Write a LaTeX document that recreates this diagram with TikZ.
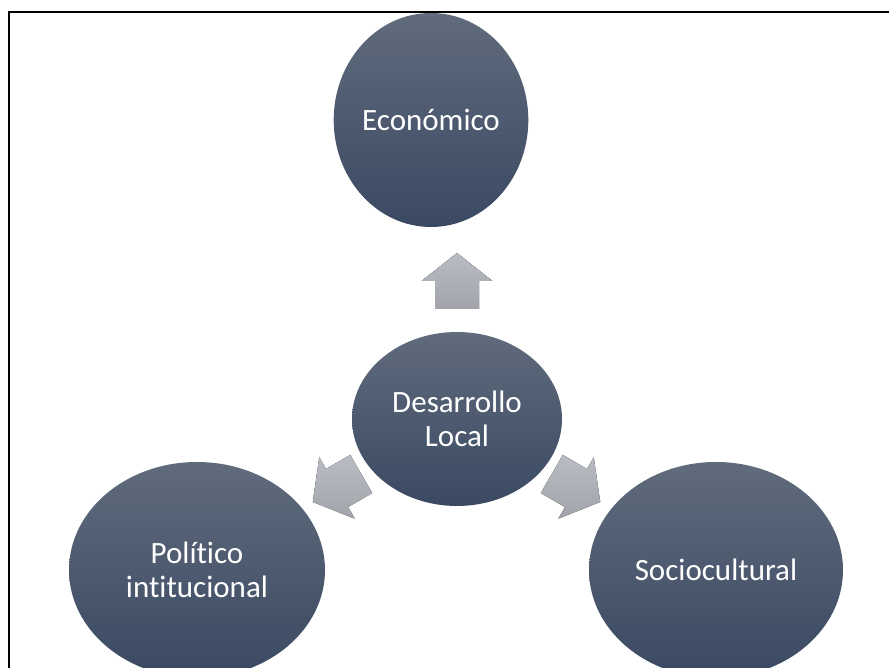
\documentclass[tikz,border=0pt]{standalone}
\usepackage{fontspec}
\setmainfont[Ligatures=NoCommon]{Carlito}
\usetikzlibrary{shapes.geometric}
\definecolor{bubbletop}{RGB}{96,107,124}
\definecolor{bubblebot}{RGB}{58,73,98}
\definecolor{arrtop}{RGB}{185,188,196}
\definecolor{arrbot}{RGB}{162,164,170}
\begin{document}
\begin{tikzpicture}[x=1pt,y=1pt,
	bubble/.style={ellipse, inner sep=0pt, top color=bubbletop, bottom color=bubblebot,
		text=white, align=center, font=\fontsize{31}{34}\selectfont},
	blockarr/.style={top color=arrtop, bottom color=arrbot}]
	\useasboundingbox (0,0) rectangle (889,668);
	\clip (0,0) rectangle (889,668);
	% frame
	\draw [line width=2pt] (9,-20) -- (9,655.5) -- (900,655.5);
	% bubbles
	\node [bubble, minimum width=190pt, minimum height=214pt] (eco) at (431,548) {Económico};
	\node [bubble, minimum width=210pt, minimum height=174pt] (des) at (457,249) {Desarrollo\\Local};
	\node [bubble, minimum width=256pt, minimum height=216pt] (pol) at (197,98) {Político\\intitucional};
	\node [bubble, minimum width=254pt, minimum height=216pt] (soc) at (716,98) {Sociocultural};
	% arrows
	\coordinate (toeco) at (457,387);
	\coordinate (topol) at (337,180);
	\coordinate (tosoc) at (576,180);
	\fill [blockarr, shift={(toeco)}, rotate=0] (0,28) -- (35.5,0) -- (22,0) -- (22,-28) -- (-22,-28) -- (-22,0) -- (-35.5,0) -- cycle;
	\fill [blockarr, shift={(topol)}, rotate=120] (0,28) -- (35.5,0) -- (22,0) -- (22,-28) -- (-22,-28) -- (-22,0) -- (-35.5,0) -- cycle;
	\fill [blockarr, shift={(tosoc)}, rotate=-120] (0,28) -- (35.5,0) -- (22,0) -- (22,-28) -- (-22,-28) -- (-22,0) -- (-35.5,0) -- cycle;
\end{tikzpicture}
\end{document}
